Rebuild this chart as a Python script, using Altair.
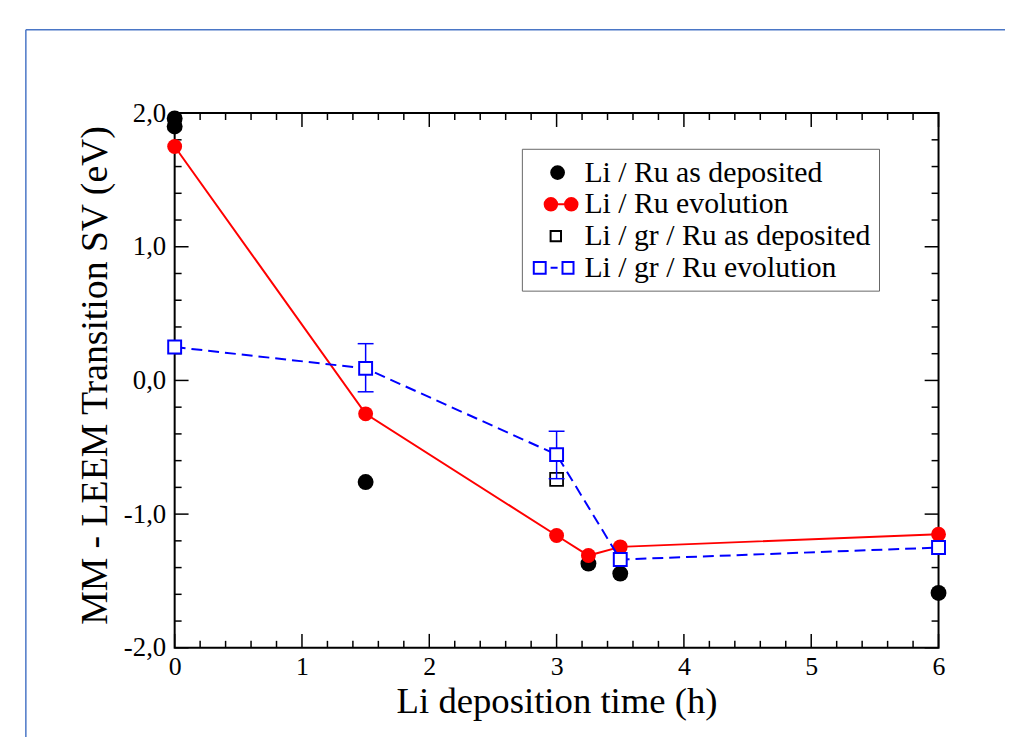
import altair as alt
import pandas as pd

# ---------------- data ----------------
ru_dep_x = [0, 0, 1.5, 3.25, 3.5, 6]
ru_dep_y = [1.96, 1.90, -0.76, -1.37, -1.445, -1.59]

ru_evo_x = [0, 1.5, 3, 3.25, 3.5, 6]
ru_evo_y = [1.75, -0.25, -1.16, -1.31, -1.245, -1.15]

gr_dep_x = [3]
gr_dep_y = [-0.74]

gr_evo_x = [0, 1.5, 3, 3.5, 6]
gr_evo_y = [0.25, 0.09, -0.555, -1.34, -1.25]

err_x = [1.5, 3]
err_lo = [-0.085, -0.735]
err_hi = [0.275, -0.38]

x_major = [0, 1, 2, 3, 4, 5, 6]
y_major = [-2, -1, 0, 1, 2]
x_minor = [i / 5 for i in range(31) if i % 5]
y_minor = [-2 + i / 5 for i in range(21) if i % 5]

legend_labels = ["Li / Ru as deposited", "Li / Ru evolution",
                 "Li / gr / Ru as deposited", "Li / gr / Ru evolution"]

# ---------------- styling ----------------
W, H = 770, 539
FONT = "Liberation Serif"
RED = "#ff0000"
BLUE = "#0000ff"

xs = alt.Scale(domain=[0, 6], nice=False, zero=False)
ys = alt.Scale(domain=[-2, 2], nice=False, zero=False)

x_axis = alt.Axis(values=x_major, format="d", ticks=False, tickSize=0, domain=False, grid=False,
                  labelFont=FONT, labelFontSize=26, labelColor="black", labelPadding=6,
                  labelFlush=False, labelOverlap=False,
                  title="Li deposition time (h)", titleFont=FONT, titleFontSize=37,
                  titleFontWeight="normal", titleColor="black",
                  titleY=65, titleBaseline="alphabetic")
y_axis = alt.Axis(values=y_major, ticks=False, tickSize=0, domain=False, grid=False,
                  labelExpr="(datum.value < 0 ? '-' : '') + replace(format(abs(datum.value), '.1f'), '.', ',')",
                  labelFont=FONT, labelFontSize=27, labelColor="black", labelPadding=9,
                  labelFlush=False, labelOverlap=False,
                  title="MM - LEEM Transition SV (eV)", titleFont=FONT, titleFontSize=38,
                  titleFontWeight="normal", titleColor="black",
                  titleX=-69, titleY=264, titleBaseline="alphabetic")

X = alt.X("x:Q", scale=xs, axis=x_axis)
Y = alt.Y("y:Q", scale=ys, axis=y_axis)

one = pd.DataFrame({"a": [0]})

# decorative light-blue page frame
frame_h = alt.Chart(one).mark_rule(color="#4a76c6", strokeWidth=1.5).encode(
    x=alt.value(-150), x2=alt.value(840), y=alt.value(-84))
frame_v = alt.Chart(one).mark_rule(color="#4a76c6", strokeWidth=1.5).encode(
    x=alt.value(-150), y=alt.value(-84), y2=alt.value(630))


def ticks_x(vals, length, top):
    df = pd.DataFrame({"x": vals})
    y0, y1 = (0, length) if top else (H, H - length)
    return alt.Chart(df).mark_rule(color="black", strokeWidth=1.5).encode(
        x=X, y=alt.value(y0), y2=alt.value(y1))


def ticks_y(vals, length, right):
    df = pd.DataFrame({"y": vals})
    x0, x1 = (W, W - length) if right else (0, length)
    return alt.Chart(df).mark_rule(color="black", strokeWidth=1.5).encode(
        y=Y, x=alt.value(x0), x2=alt.value(x1))


tick_layers = [
    ticks_x(x_major, 14, False), ticks_x(x_minor, 7, False),
    ticks_x(x_major, 14, True), ticks_x(x_minor, 7, True),
    ticks_y(y_major, 14, False), ticks_y(y_minor, 7, False),
    ticks_y(y_major, 14, True), ticks_y(y_minor, 7, True),
]

ru_dep = alt.Chart(pd.DataFrame({"x": ru_dep_x, "y": ru_dep_y})).mark_circle(
    size=256, color="black", opacity=1).encode(x=X, y=Y)

gr_dep = alt.Chart(pd.DataFrame({"x": gr_dep_x, "y": gr_dep_y})).mark_point(
    shape="square", size=169, filled=False, stroke="black", strokeWidth=1.8, opacity=1).encode(x=X, y=Y)

ru_df = pd.DataFrame({"x": ru_evo_x, "y": ru_evo_y})
ru_line = alt.Chart(ru_df).mark_line(color=RED, strokeWidth=2).encode(x=X, y=Y)
ru_pts = alt.Chart(ru_df).mark_circle(size=225, color=RED, opacity=1).encode(x=X, y=Y)

err_df = pd.DataFrame({"x": err_x, "y": err_lo, "y2": err_hi})
err_rule = alt.Chart(err_df).mark_rule(color=BLUE, strokeWidth=1.5).encode(
    x=X, y=Y, y2=alt.Y2("y2:Q"))
caps_df = pd.DataFrame({"x": err_x + err_x, "y": err_lo + err_hi})
err_caps = alt.Chart(caps_df).mark_tick(orient="horizontal", size=16, thickness=1.5,
                                        color=BLUE, opacity=1).encode(x=X, y=Y)

gr_df = pd.DataFrame({"x": gr_evo_x, "y": gr_evo_y})
gr_line = alt.Chart(gr_df).mark_line(color=BLUE, strokeWidth=2, strokeDash=[11, 6]).encode(x=X, y=Y)
gr_pts = alt.Chart(gr_df).mark_point(shape="square", size=169, filled=True, fill="white",
                                     stroke=BLUE, strokeWidth=2, opacity=1).encode(x=X, y=Y)

# ---------------- legend (symbols drawn as custom paths) ----------------
legend_paths = [
    "M-0.63,0a0.43,0.43 0 1,0 0.86,0a0.43,0.43 0 1,0 -0.86,0Z",
    "M-0.65,0L0.72,0M-1.07,0a0.42,0.42 0 1,0 0.84,0a0.42,0.42 0 1,0 -0.84,0ZM0.3,0a0.42,0.42 0 1,0 0.84,0a0.42,0.42 0 1,0 -0.84,0Z",
    "M-0.67,-0.35h0.7v0.7h-0.7Z",
    "M-1.8,-0.4h0.8v0.8h-0.8ZM-0.67,0h0.47M0.13,-0.4h0.74v0.8h-0.74Z",
]
legend_fills = ["black", RED, "transparent", "transparent"]
legend_strokes = ["black", RED, "black", BLUE]

leg = alt.Legend(orient="none", legendX=350, legendY=36, title=None, padding=8,
                 strokeColor="#666666", fillColor="white",
                 labelFont=FONT, labelFontSize=30, labelColor="black", labelLimit=600,
                 labelOffset=8, symbolOffset=15, symbolSize=900, symbolStrokeWidth=2,
                 rowPadding=1, labelBaseline="middle")

legend_layer = alt.Chart(pd.DataFrame({"series": legend_labels})).transform_filter(
    "false").mark_point(size=900, opacity=1, strokeWidth=2, filled=True).encode(
    shape=alt.Shape("series:N", scale=alt.Scale(domain=legend_labels, range=legend_paths), legend=leg),
    fill=alt.Fill("series:N", scale=alt.Scale(domain=legend_labels, range=legend_fills), legend=leg),
    stroke=alt.Stroke("series:N", scale=alt.Scale(domain=legend_labels, range=legend_strokes), legend=leg),
)

chart = alt.layer(
    frame_h, frame_v, *tick_layers,
    ru_dep, gr_dep, ru_line, ru_pts, err_rule, err_caps, gr_line, gr_pts,
    legend_layer,
).properties(
    width=W, height=H,
    padding={"left": 168, "top": 103, "right": 67, "bottom": 87},
    autosize=alt.AutoSizeParams(type="none"),
    background="white",
).configure_view(stroke="black", strokeWidth=2)

chart.save("out.html", embed_options={"renderer": "svg", "actions": False})
